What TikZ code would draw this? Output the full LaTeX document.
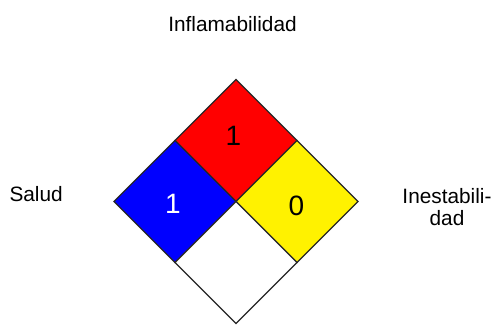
\documentclass[tikz,border=0pt]{standalone}
\usepackage{fontspec}
\setmainfont{Liberation Sans}
\begin{document}
\begin{tikzpicture}[x=1pt,y=-1pt,
  sq/.style={draw=black!85, line width=1.3pt, minimum size=86.3pt, rotate=45, inner sep=0pt, line join=miter},
  lbl/.style={font=\fontsize{20.8}{22}\selectfont, inner sep=0pt},
  num/.style={font=\fontsize{28}{30}\selectfont, inner sep=0pt, anchor=base}]
\useasboundingbox (0,0) rectangle (494,324);
\node[sq, fill=red] (red) at (236,140.5) {};
\node[sq, fill=blue] (blue) at (175,201.5) {};
\node[sq, fill=yellow] (yellow) at (297,201.5) {};
\node[sq, fill=white] (white) at (236,262.5) {};
\node[num, text=black] (n1) at (233.5,145) {1};
\node[num, text=white] (n2) at (173,213) {1};
\node[num, text=black] (n3) at (296.5,215) {0};
\node[lbl, anchor=base] (infl) at (232.5,31.7) {Inflamabilidad};
\node[lbl, anchor=base west] (salud) at (9.3,201.7) {Salud};
\node[lbl, anchor=base, align=center, inner sep=0pt] (ines) at (447,225) {Inestabili-\\dad};
\end{tikzpicture}
\end{document}
